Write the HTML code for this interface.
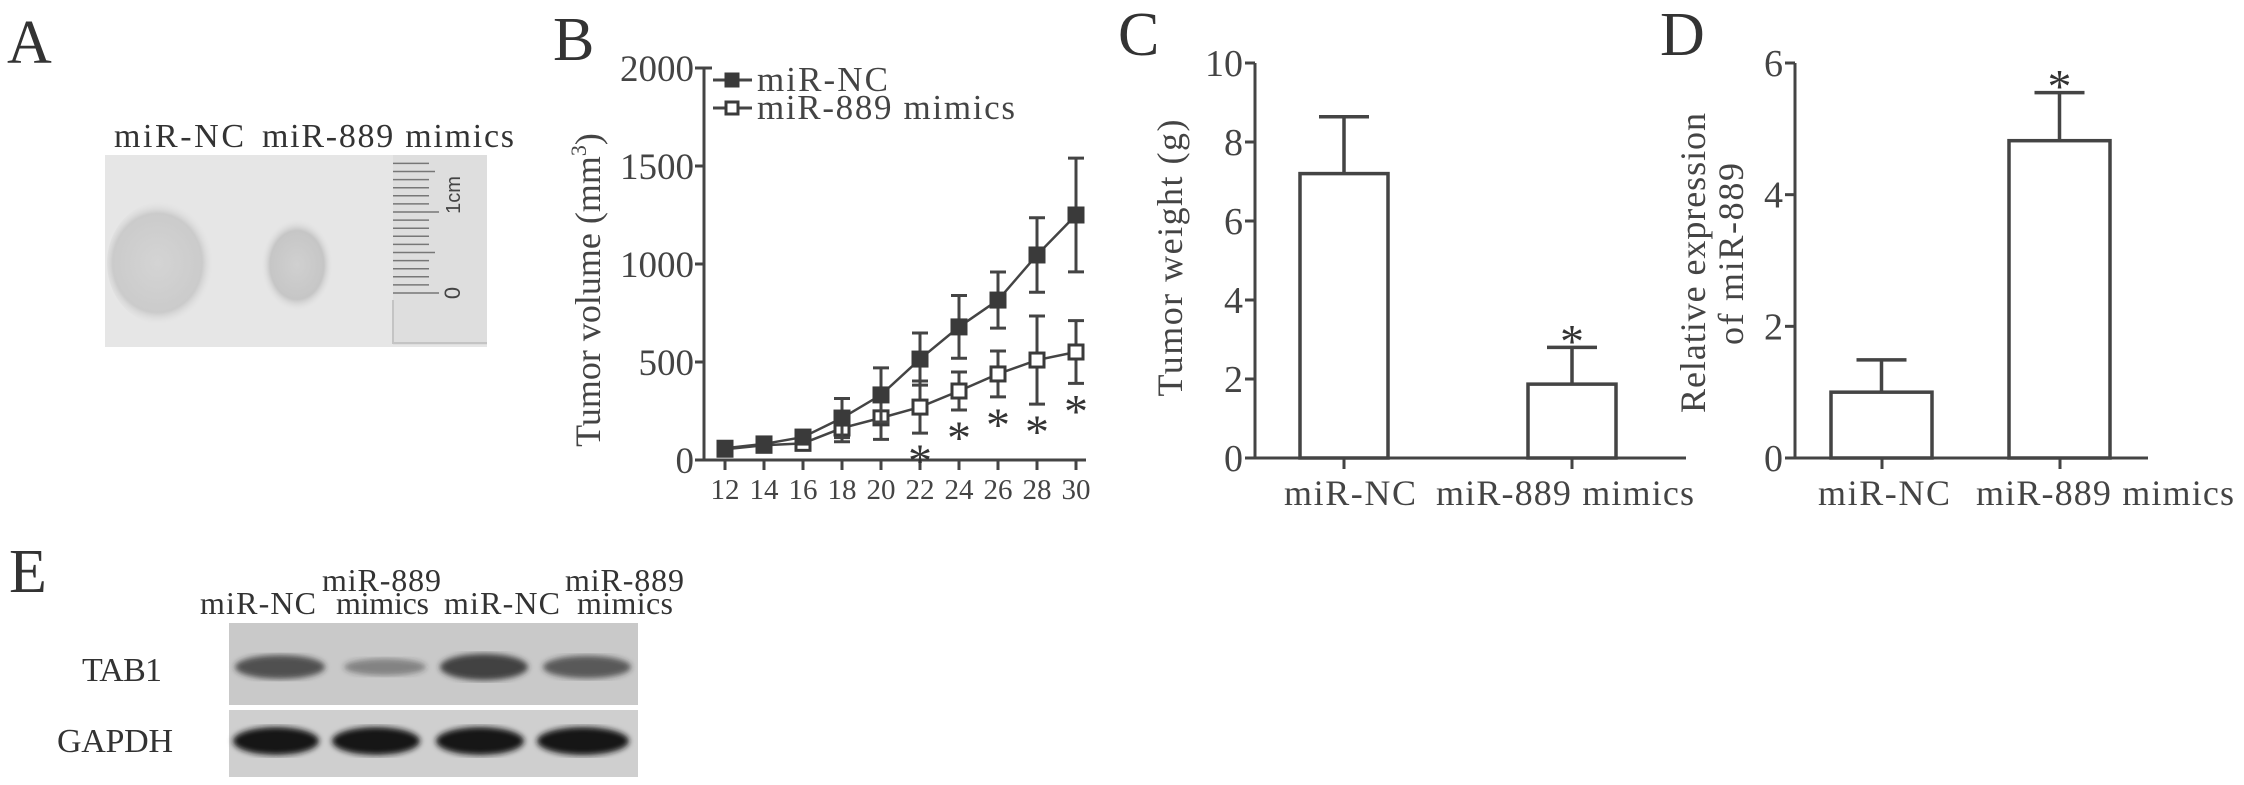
<!DOCTYPE html>
<html><head><meta charset="utf-8"><style>
html,body{margin:0;padding:0;background:#fff;}
svg{display:block;font-family:"Liberation Serif",serif;}
</style></head><body>
<svg id="fig" width="2244" height="785" viewBox="0 0 2244 785" xmlns="http://www.w3.org/2000/svg">
<defs>
<radialGradient id="t1" cx="0.45" cy="0.5" r="0.5"><stop offset="0" stop-color="#d4d4d4"/><stop offset="0.8" stop-color="#cbcbcb"/><stop offset="1" stop-color="#e4e4e4" stop-opacity="0"/></radialGradient>
<radialGradient id="t2" cx="0.5" cy="0.5" r="0.5"><stop offset="0" stop-color="#d0d0d0"/><stop offset="0.75" stop-color="#c6c6c6"/><stop offset="1" stop-color="#e4e4e4" stop-opacity="0"/></radialGradient>
<filter id="blur2"><feGaussianBlur stdDeviation="3"/></filter>
</defs>

<!-- Panel A -->
<g>
<text x="7" y="63" font-size="62" fill="#333">A</text>
<text x="114" y="147" font-size="34" fill="#333" textLength="130">miR-NC</text>
<text x="262" y="147" font-size="34" fill="#333" textLength="252">miR-889 mimics</text>
<rect x="105" y="155" width="382" height="192" fill="#e6e6e6"/>
<ellipse cx="163" cy="263" rx="56" ry="62" fill="url(#t1)"/>
<ellipse cx="297" cy="265" rx="36" ry="46" fill="url(#t2)"/>
<rect x="393" y="155" width="94" height="190" fill="#dedede"/>
<path d="M393,300 V343 H487" stroke="#c4c4c4" stroke-width="2" fill="none"/>
<g id="ruler-ticks" stroke="#777" stroke-width="1.5"></g>
<text transform="translate(460,195) rotate(-90)" font-family="Liberation Sans" font-size="20" fill="#444" text-anchor="middle">1cm</text>
<text transform="translate(460,293) rotate(-90)" font-family="Liberation Sans" font-size="22" fill="#444" text-anchor="middle">0</text>
</g>

<!-- Panel B -->
<g id="panelB">
<text x="553" y="60" font-size="62" fill="#333">B</text>
<text transform="translate(600,290) rotate(-90)" font-size="36" fill="#444" text-anchor="middle">Tumor volume (mm<tspan font-size="22" dy="-14">3</tspan><tspan dy="14">)</tspan></text>
</g>

<!-- Panel C -->
<g id="panelC">
<text x="1118" y="55" font-size="62" fill="#333">C</text>
<text transform="translate(1182,258) rotate(-90)" font-size="36" fill="#444" text-anchor="middle" textLength="277">Tumor weight (g)</text>
</g>

<!-- Panel D -->
<g id="panelD">
<text x="1660" y="55" font-size="62" fill="#333">D</text>
<text transform="translate(1705,263) rotate(-90)" font-size="36" fill="#444" text-anchor="middle" textLength="300">Relative expression</text>
<text transform="translate(1743,254) rotate(-90)" font-size="36" fill="#444" text-anchor="middle" textLength="182">of miR-889</text>
</g>

<!-- Panel E -->
<g>
<text x="9" y="592" font-size="62" fill="#333">E</text>
<text x="322" y="591" font-size="32" fill="#333" textLength="119">miR-889</text>
<text x="200" y="614" font-size="32" fill="#333" textLength="116">miR-NC</text>
<text x="336" y="614" font-size="32" fill="#333" textLength="93">mimics</text>
<text x="444" y="614" font-size="32" fill="#333" textLength="116">miR-NC</text>
<text x="565" y="591" font-size="32" fill="#333" textLength="119">miR-889</text>
<text x="577" y="614" font-size="32" fill="#333" textLength="96">mimics</text>
<text x="82" y="681" font-size="34" fill="#333" textLength="80">TAB1</text>
<text x="57" y="752" font-size="34" fill="#333" textLength="116">GAPDH</text>
<rect x="229" y="623" width="409" height="82" fill="#c9c9c9"/>
<rect x="229" y="710" width="409" height="67" fill="#cfcfcf"/>
<g id="bands"></g>
</g>
</svg>
<script>
const NS="http://www.w3.org/2000/svg";
function mk(tag,attrs,parent){const e=document.createElementNS(NS,tag);for(const k in attrs)e.setAttribute(k,attrs[k]);parent.appendChild(e);return e;}
const TXT="#444", LN="#444";

// ---------- Panel B data ----------
const daysB=[12,14,16,18,20,22,24,26,28,30];
const ncMean=[60,82,117,214,332,515,679,816,1046,1250];
const ncErr=[10,15,25,100,138,133,160,143,190,290];
const mimMean=[55,75,85,163,215,270,352,439,510,551];
const mimErr=[8,12,20,70,110,133,97,117,225,160];
const sigB=[22,24,26,28,30];
const yTicksB=[0,500,1000,1500,2000];

// ---------- Panel C data ----------
const catsC=["miR-NC","miR-889 mimics"];
const valC=[7.2,1.87];
const errC=[1.44,0.93];
const yTicksC=[0,2,4,6,8,10];

// ---------- Panel D data ----------
const catsD=["miR-NC","miR-889 mimics"];
const valD=[1.0,4.82];
const errD=[0.49,0.73];
const yTicksD=[0,2,4,6];

// ---------- Panel E band intensities ----------
const tab1Int=[0.75,0.45,0.85,0.7];
const gapdhInt=[1,1,1,1];

// Ruler
const rg=document.getElementById('ruler-ticks');
for(let i=0;i<=16;i++){
  const y=293-i*8.1; const len=(i%10===0)?46:(i%5===0?42:36);
  const l=mk('line',{x1:393,x2:393+len,y1:y,y2:y},rg);
  
  
}

// Panel B
(function(){
  const g=document.getElementById('panelB');
  const X0=704, Y0=460, Ytop=68;
  const xs=d=>725+(d-12)*19.5;
  const ys=v=>Y0-v*(Y0-Ytop)/2000;
  const ax=mk('path',{d:`M${X0+8},${Ytop} H${X0} V${Y0} H1086`,stroke:LN,'stroke-width':3,fill:'none'},g);
  
  
  yTicksB.forEach(v=>{
    const t=mk('line',{x1:X0-9,x2:X0,y1:ys(v),y2:ys(v),stroke:LN,'stroke-width':3},g);
    
    
    const tx=mk('text',{x:X0-10,y:ys(v)+13,'font-size':37,fill:TXT,'text-anchor':'end'},g);
    tx.textContent=v;
    
    
  });
  daysB.forEach(d=>{
    const t=mk('line',{x1:xs(d),x2:xs(d),y1:Y0,y2:Y0+10,stroke:LN,'stroke-width':3},g);
    
    
    const tx=mk('text',{x:xs(d),y:499,'font-size':29,fill:TXT,'text-anchor':'middle'},g);
    tx.textContent=d;
    
    
  });
  function series(mean,err,filled,name){
    const sg=mk('g',{},g);
    
    
    let d='';
    daysB.forEach((dd,i)=>{d+=(i?'L':'M')+xs(dd)+','+ys(mean[i]);});
    const p=mk('path',{d:d,stroke:LN,'stroke-width':2.5,fill:'none'},sg);
    
    
    daysB.forEach((dd,i)=>{
      const x=xs(dd),yt=ys(mean[i]+err[i]),yb=ys(mean[i]-err[i]);
      const e=mk('path',{d:`M${x},${yt}V${yb}M${x-8},${yt}H${x+8}M${x-8},${yb}H${x+8}`,stroke:LN,'stroke-width':3,fill:'none'},sg);
      
      
      const m=mk('rect',{x:x-7,y:ys(mean[i])-7,width:14,height:14,fill:filled?'#3a3a3a':'#fff',stroke:'#3a3a3a','stroke-width':3},sg);
      
      
    });
  }
  series(mimMean,mimErr,false,'series-mimics');
  series(ncMean,ncErr,true,'series-mir-nc');
  sigB.forEach(d=>{
    const i=daysB.indexOf(d);
    const s=mk('text',{x:xs(d),y:ys(mimMean[i]-mimErr[i])+44,'font-size':48,fill:'#333','text-anchor':'middle'},g);
    s.textContent='*';
    
    
  });
  const lg=mk('g',{},g);
  
  
  [[80,true,'miR-NC',131],[108,false,'miR-889 mimics',258]].forEach(([y,f,lab,w])=>{
    const l=mk('line',{x1:713,x2:752,y1:y,y2:y,stroke:LN,'stroke-width':3},lg);
    
    
    const r=mk('rect',{x:726,y:y-6,width:12,height:12,fill:f?'#3a3a3a':'#fff',stroke:'#3a3a3a','stroke-width':3},lg);
    
    
    const t=mk('text',{x:757,y:y+11,'font-size':35,fill:TXT,textLength:w},lg);
    t.textContent=lab;
    
    
  });
})();

// Bar panels
function barPanel(gid,X0,Xend,ymax,cats,vals,errs,ticks,barX,barW,tickX,labX,labW,starIdx,pfx){
  const g=document.getElementById(gid);
  const Y0=458, Ytop=63;
  const ys=v=>Y0-v*(Y0-Ytop)/ymax;
  const ax=mk('path',{d:`M${X0},${Ytop} V${Y0} H${Xend}`,stroke:LN,'stroke-width':3,fill:'none'},g);
  
  
  ticks.forEach(v=>{
    const t=mk('line',{x1:X0-10,x2:X0,y1:ys(v),y2:ys(v),stroke:LN,'stroke-width':3},g);
    
    
    const tx=mk('text',{x:X0-12,y:ys(v)+13,'font-size':38,fill:TXT,'text-anchor':'end'},g);
    tx.textContent=v;
    
    
  });
  cats.forEach((c,i)=>{
    const cx=barX[i]+barW/2;
    const e=mk('path',{d:`M${cx},${ys(vals[i])}V${ys(vals[i]+errs[i])}M${cx-25},${ys(vals[i]+errs[i])}H${cx+25}`,stroke:LN,'stroke-width':3.5,fill:'none'},g);
    
    
    const b=mk('rect',{x:barX[i],y:ys(vals[i]),width:barW,height:Y0-ys(vals[i]),fill:'#fff',stroke:LN,'stroke-width':3.5},g);
    
    
    const t=mk('line',{x1:tickX[i],x2:tickX[i],y1:Y0,y2:Y0+11,stroke:LN,'stroke-width':3},g);
    
    
    const tx=mk('text',{x:labX[i],y:505,'font-size':36,fill:TXT,textLength:labW[i]},g);
    tx.textContent=c;
    
    
  });
  const i=starIdx;
  const s=mk('text',{x:barX[i]+barW/2,y:ys(vals[i]+errs[i])+10,'font-size':48,fill:'#333','text-anchor':'middle'},g);
  s.textContent='*';
  
  
}
barPanel('panelC',1255,1686,10,catsC,valC,errC,yTicksC,[1300,1528],88,[1344,1572],[1284,1436],[132,258],1,'c');
barPanel('panelD',1795,2148,6,catsD,valD,errD,yTicksD,[1831,2009],101,[1882,2060],[1818,1976],[132,258],1,'d');

// Bands
(function(){
  const bg=document.getElementById('bands');
  const lanesT=[280,385,484,587];
  const wT=[90,82,88,88];
  const lanesG=[276,376,480,583];
  const wG=[86,88,88,92];
  lanesT.forEach((x,i)=>{
    const a=mk('ellipse',{cx:x,cy:667,rx:wT[i]/2,ry:12*tab1Int[i]+3,fill:'#2a2a2a','fill-opacity':tab1Int[i],filter:'url(#blur2)'},bg);
    
    
  });
  lanesG.forEach((x,i)=>{
    const b=mk('ellipse',{cx:x,cy:741,rx:wG[i]/2,ry:14*gapdhInt[i],fill:'#151515',filter:'url(#blur2)'},bg);
    
    
  });
})();
</script>
</body></html>
